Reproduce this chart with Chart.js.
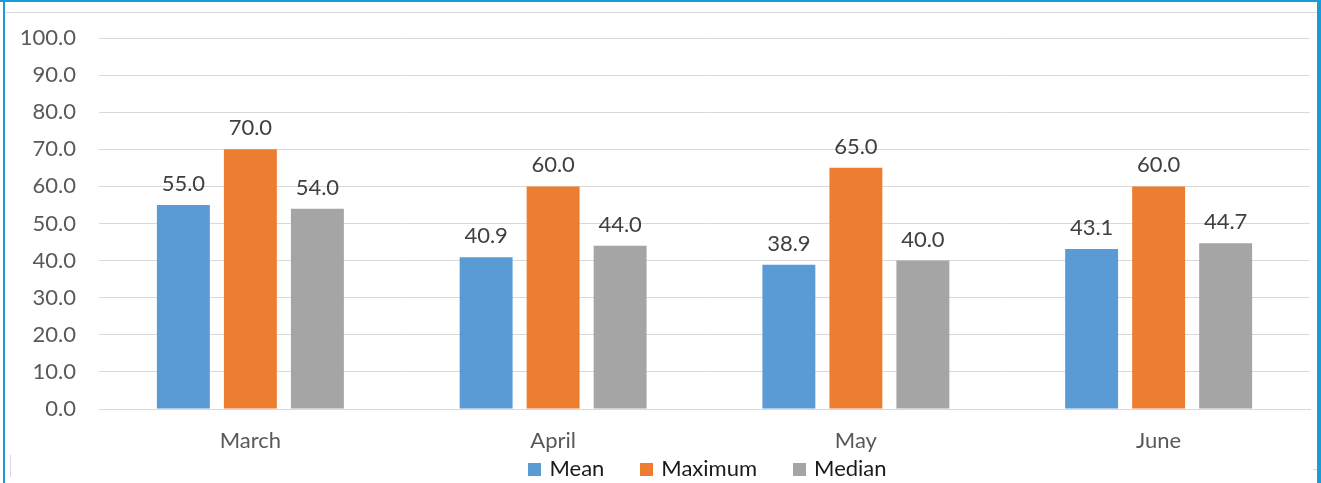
<!DOCTYPE html>
<html><head><meta charset="utf-8">
<script src="https://cdn.jsdelivr.net/npm/chart.js@4/dist/chart.umd.min.js"></script>
<style>
html,body{margin:0;padding:0;background:#fff;}
#wrap{position:relative;width:1321px;height:483px;overflow:hidden;}
#c{position:absolute;left:0;top:0;}
.b{position:absolute;background:#1a9ad6;}
.g{position:absolute;background:#d9d9d9;}
</style></head>
<body>
<div id="wrap">
<canvas id="c" width="1321" height="483"></canvas>
<div class="b" style="left:0;top:0;width:1321px;height:2px"></div>
<div class="b" style="left:3px;top:0;width:2px;height:483px"></div>
<div class="b" style="left:1317px;top:0;width:4px;height:483px"></div>
<div class="g" style="left:5px;top:12px;width:1312px;height:1px"></div>
<div class="g" style="left:10px;top:455px;width:1px;height:22px"></div>
<div class="g" style="left:1313px;top:469px;width:4px;height:1px"></div>
</div>
<script>
const categories = ["March", "April", "May", "June"];
const meanValues = [55.0, 40.9, 38.9, 43.1];
const maximumValues = [70.0, 60.0, 65.0, 60.0];
const medianValues = [54.0, 44.0, 40.0, 44.7];
const yTicks = [0, 10, 20, 30, 40, 50, 60, 70, 80, 90, 100];

const FONT = "Lato, 'Open Sans', sans-serif";
const FS = 22;

const labelPlugin = {
  id: 'valLabels',
  afterDatasetsDraw(chart) {
    const ctx = chart.ctx;
    ctx.save();
    ctx.font = FS + "px " + FONT;
    ctx.fillStyle = "#404040";
    ctx.textAlign = "center";
    ctx.textBaseline = "alphabetic";
    chart.data.datasets.forEach((ds, i) => {
      const meta = chart.getDatasetMeta(i);
      meta.data.forEach((bar, j) => {
        ctx.fillText(ds.data[j].toFixed(1), bar.x, bar.y - 14);
      });
    });
    ctx.restore();
  }
};

const legendPlugin = {
  id: 'customLegend',
  afterDraw(chart) {
    const ctx = chart.ctx;
    const box = 13, gapText = 8, gapItem = 36;
    ctx.save();
    ctx.font = FS + "px " + FONT;
    ctx.textBaseline = "middle";
    ctx.textAlign = "left";
    const items = chart.data.datasets.map(ds => ({text: ds.label, color: ds.backgroundColor, w: ctx.measureText(ds.label).width}));
    let total = items.reduce((s, it) => s + box + gapText + it.w, 0) + gapItem * (items.length - 1);
    const ca = chart.chartArea;
    let x = (ca.left + ca.right) / 2 + 3 - total / 2;
    const yc = 469;
    items.forEach(it => {
      ctx.fillStyle = it.color;
      ctx.fillRect(Math.round(x), yc - 6, box, box);
      ctx.fillStyle = "#1a1a1a";
      ctx.fillText(it.text, x + box + gapText, yc);
      x += box + gapText + it.w + gapItem;
    });
    ctx.restore();
  }
};

new Chart(document.getElementById('c'), {
  type: 'bar',
  data: {
    labels: categories,
    datasets: [
      {label: 'Mean', data: meanValues, backgroundColor: '#5b9bd5'},
      {label: 'Maximum', data: maximumValues, backgroundColor: '#ed7d31'},
      {label: 'Median', data: medianValues, backgroundColor: '#a5a5a5'}
    ]
  },
  options: {
    responsive: false,
    animation: false,
    devicePixelRatio: 1,
    categoryPercentage: 0.664,
    barPercentage: 0.79,
    layout: {padding: {top: 38, right: 11, left: 0, bottom: 24}},
    scales: {
      x: {
        grid: {display: false, drawTicks: false},
        border: {display: true, color: '#d9d9d9', width: 1},
        ticks: {font: {family: FONT, size: FS}, color: '#595959', padding: 19},
        afterFit: s => { s.height = 50; }
      },
      y: {
        min: 0, max: 100,
        afterBuildTicks: s => { s.ticks = yTicks.map(v => ({value: v})); },
        grid: {color: '#d9d9d9', drawTicks: false},
        border: {display: false},
        ticks: {font: {family: FONT, size: FS}, color: '#595959', padding: 23,
                callback: v => Number(v).toFixed(1)},
        afterFit: s => { s.width = 99; }
      }
    },
    plugins: {
      legend: {display: false},
      tooltip: {enabled: false}
    }
  },
  plugins: [labelPlugin, legendPlugin]
});
</script>
</body></html>
